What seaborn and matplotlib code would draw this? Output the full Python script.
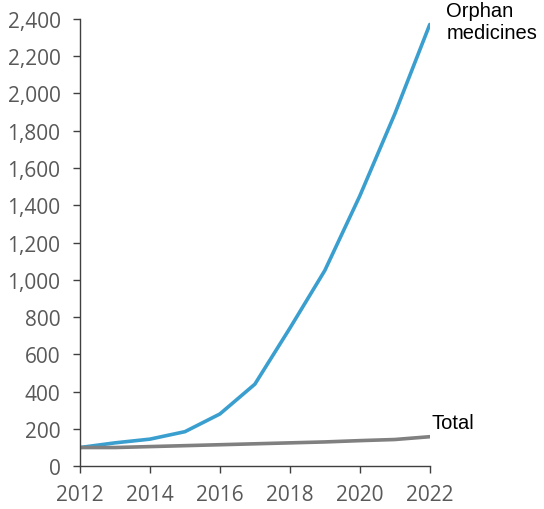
import numpy as np
import pandas as pd
import matplotlib
matplotlib.use("Agg")
import matplotlib.pyplot as plt
import seaborn as sns
from matplotlib.ticker import FuncFormatter

# ## Data (index, 2012 = 100)

years = [2012, 2013, 2014, 2015, 2016, 2017, 2018, 2019, 2020, 2021, 2022]
orphan = [100, 125, 145, 185, 280, 440, 740, 1050, 1450, 1890, 2370]
total = [100, 100, 105, 110, 115, 120, 125, 130, 137, 143, 158]

df = pd.DataFrame({"year": years, "Orphan medicines": orphan, "Total": total})

sns.set_style("ticks")
plt.rcParams['font.family'] = ['Open Sans', 'DejaVu Sans']

fig = plt.figure(figsize=(5.44, 5.10), dpi=100)
ax = fig.add_axes([0.147, 0.084, 0.643, 0.877])

sns.lineplot(data=df, x="year", y="Orphan medicines", ax=ax, color="#3a9fcf", linewidth=2.6)
sns.lineplot(data=df, x="year", y="Total", ax=ax, color="#808080", linewidth=2.6)

ax.set_xlim(2012, 2022)
ax.set_ylim(0, 2400)
ax.set_xticks(range(2012, 2023, 2))
ax.set_yticks(range(0, 2401, 200))
ax.yaxis.set_major_formatter(FuncFormatter(lambda v, p: f"{int(v):,}"))
ax.set_xlabel("")
ax.set_ylabel("")
ax.tick_params(axis="both", labelsize=15, labelcolor="#595959", color="#404040",
               length=5, width=1)
ax.tick_params(axis="x", pad=8)
ax.tick_params(axis="y", pad=9)
for s in ["top", "right"]:
    ax.spines[s].set_visible(False)
for s in ["left", "bottom"]:
    ax.spines[s].set_color("#404040")
    ax.spines[s].set_linewidth(1)

# line labels
ax.annotate("Orphan\nmedicines", xy=(years[-1], orphan[-1]), xytext=(12, 2),
            textcoords="offset points", fontsize=14.5, family="Liberation Sans",
            va="center", ha="left", color="black", annotation_clip=False)
ax.annotate("Total", xy=(years[-1], total[-1]), xytext=(1, 10),
            textcoords="offset points", fontsize=14.5, family="Liberation Sans",
            va="center", ha="left", color="black", annotation_clip=False)

plt.savefig("out.png", dpi=100)
